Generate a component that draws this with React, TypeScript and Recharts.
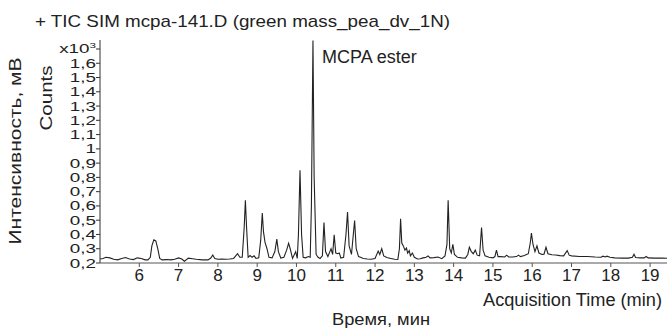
import React from 'react';
import { LineChart, Line, XAxis, YAxis } from 'recharts';

// retention time (min) and intensity (x10^3 counts)
const times = [
  5.0, 5.08, 5.15, 5.25, 5.35, 5.45, 5.55, 5.65, 5.75, 5.85, 5.95, 6.05, 6.15, 6.22, 6.28, 6.32, 6.37, 6.42, 6.47, 6.52, 6.58,
  6.7, 6.8, 6.9, 7.0, 7.08, 7.15, 7.25, 7.35, 7.45, 7.6, 7.75, 7.82, 7.87, 7.92, 8.0, 8.1, 8.2, 8.3, 8.4, 8.5,
  8.56, 8.62, 8.67, 8.7, 8.73, 8.77, 8.82, 8.87, 8.92, 8.97, 9.04, 9.09, 9.13, 9.16, 9.2, 9.25, 9.3, 9.38, 9.45, 9.5,
  9.54, 9.6, 9.68, 9.75, 9.8, 9.84, 9.9, 9.98, 10.02, 10.05, 10.09, 10.13, 10.17, 10.23, 10.3, 10.35, 10.38, 10.42, 10.45, 10.5,
  10.55, 10.6, 10.66, 10.7, 10.74, 10.8, 10.85, 10.88, 10.92, 10.96, 11.0, 11.05, 11.09, 11.13, 11.2, 11.26, 11.3, 11.34, 11.4, 11.44,
  11.48, 11.52, 11.58, 11.63, 11.7, 11.8, 11.9, 12.0, 12.08, 12.12, 12.17, 12.22, 12.3, 12.4, 12.5, 12.58, 12.62, 12.65, 12.68, 12.72,
  12.76, 12.8, 12.83, 12.87, 12.9, 12.95, 13.0, 13.08, 13.15, 13.22, 13.3, 13.35, 13.4, 13.5, 13.6, 13.7, 13.78, 13.83, 13.86, 13.9,
  13.94, 13.98, 14.02, 14.1, 14.2, 14.3, 14.36, 14.4, 14.45, 14.5, 14.55, 14.6, 14.66, 14.71, 14.75, 14.8, 14.9, 15.0, 15.05, 15.09,
  15.13, 15.2, 15.3, 15.35, 15.4, 15.5, 15.6, 15.65, 15.7, 15.8, 15.9, 15.95, 15.98, 16.02, 16.07, 16.12, 16.17, 16.25, 16.3, 16.35,
  16.4, 16.5, 16.6, 16.7, 16.8, 16.89, 16.94, 17.0, 17.2, 17.4, 17.6, 17.75, 17.8, 17.86, 17.9, 17.98, 18.1, 18.3, 18.45, 18.55,
  18.59, 18.63, 18.75, 18.85, 18.9, 18.95, 19.1, 19.3, 19.43,
];

const counts = [
  0.228, 0.232, 0.240, 0.236, 0.226, 0.222, 0.232, 0.238, 0.228, 0.224, 0.236, 0.232, 0.222, 0.222, 0.240, 0.320, 0.362, 0.355, 0.300, 0.232, 0.222,
  0.224, 0.222, 0.226, 0.236, 0.228, 0.212, 0.234, 0.230, 0.226, 0.222, 0.222, 0.235, 0.256, 0.232, 0.226, 0.228, 0.226, 0.228, 0.232, 0.265,
  0.240, 0.240, 0.450, 0.639, 0.450, 0.240, 0.252, 0.240, 0.250, 0.232, 0.236, 0.360, 0.550, 0.420, 0.345, 0.300, 0.240, 0.236, 0.280, 0.367,
  0.280, 0.235, 0.240, 0.290, 0.339, 0.300, 0.232, 0.280, 0.232, 0.400, 0.850, 0.400, 0.240, 0.236, 0.245, 0.240, 0.600, 1.760, 0.800, 0.260,
  0.240, 0.232, 0.250, 0.484, 0.280, 0.245, 0.280, 0.300, 0.260, 0.397, 0.270, 0.265, 0.270, 0.235, 0.240, 0.400, 0.557, 0.320, 0.260, 0.380,
  0.498, 0.300, 0.245, 0.240, 0.232, 0.228, 0.226, 0.232, 0.284, 0.260, 0.300, 0.250, 0.238, 0.232, 0.226, 0.225, 0.300, 0.510, 0.340, 0.320,
  0.290, 0.305, 0.270, 0.287, 0.250, 0.270, 0.240, 0.228, 0.230, 0.236, 0.240, 0.250, 0.236, 0.238, 0.242, 0.230, 0.250, 0.330, 0.639, 0.300,
  0.270, 0.330, 0.260, 0.240, 0.236, 0.234, 0.260, 0.310, 0.280, 0.265, 0.290, 0.255, 0.250, 0.449, 0.290, 0.250, 0.240, 0.236, 0.245, 0.290,
  0.245, 0.245, 0.242, 0.255, 0.242, 0.242, 0.245, 0.255, 0.245, 0.252, 0.265, 0.340, 0.409, 0.330, 0.280, 0.320, 0.270, 0.260, 0.262, 0.310,
  0.265, 0.258, 0.256, 0.252, 0.250, 0.287, 0.255, 0.250, 0.246, 0.246, 0.242, 0.240, 0.248, 0.242, 0.248, 0.240, 0.236, 0.234, 0.234, 0.240,
  0.262, 0.238, 0.236, 0.236, 0.246, 0.236, 0.234, 0.234, 0.233,
];

const xTicks = [6, 7, 8, 9, 10, 11, 12, 13, 14, 15, 16, 17, 18, 19];
const yTicks = [0.2, 0.3, 0.4, 0.5, 0.6, 0.7, 0.8, 0.9, 1.0, 1.1, 1.2, 1.3, 1.4, 1.5, 1.6, 1.7];

const data = times.map((t, i) => ({ t, v: counts[i] }));

const FONT = '"Liberation Sans", Arial, sans-serif';
const INK = '#222';

// y labels in the original are drawn wide, hence the horizontal stretch
const YTick = ({ x, y, payload }: any) => {
  const v = Math.round(payload.value * 10) / 10;
  const label = v === 1.7
    ? <>x10<tspan fontSize={8} dy={-5}>3</tspan></>
    : String(v).replace('.', ',');
  return (
    <g transform={`translate(${x},${y})`}>
      <text transform="scale(1.45,1)" x={0} y={0} dy={4.5} textAnchor="end" fontSize={13} fill={INK} fontFamily={FONT}>
        {label}
      </text>
    </g>
  );
};

export default function App() {
  return (
    <div style={{ position: 'absolute', left: 0, top: 0, width: 667, height: 332, background: '#fff', fontFamily: FONT }}>
      <LineChart width={667} height={332} data={data} margin={{ top: 40, right: 0, bottom: 39, left: 40 }}>
        <XAxis
          type="number"
          dataKey="t"
          domain={[5, 19.43]}
          ticks={xTicks}
          allowDataOverflow
          tickSize={4}
          height={30}
          stroke="#555"
          tick={{ fontSize: 17, fill: INK, fontFamily: FONT }}
          interval={0}
        />
        <YAxis
          type="number"
          dataKey="v"
          domain={[0.2, 1.763]}
          ticks={yTicks}
          allowDataOverflow
          tickSize={4}
          tickMargin={0}
          width={60}
          stroke="#333"
          tick={<YTick />}
          interval={0}
        />
        <Line
          type="linear"
          dataKey="v"
          stroke={INK}
          strokeWidth={1.1}
          dot={false}
          isAnimationActive={false}
        />
        <text x={35} y={27} fontSize={17} textLength={415} lengthAdjust="spacingAndGlyphs" fill={INK} fontFamily={FONT}>
          + TIC SIM mcpa-141.D (green mass_pea_dv_1N)
        </text>
        <text x={322} y={63} fontSize={18} fill={INK} fontFamily={FONT}>
          MCPA ester
        </text>
        <text x={483} y={306} fontSize={18} textLength={179} lengthAdjust="spacingAndGlyphs" fill={INK} fontFamily={FONT}>
          Acquisition Time (min)
        </text>
        <text x={332} y={325} fontSize={17} textLength={98} lengthAdjust="spacingAndGlyphs" fill={INK} fontFamily={FONT}>
          Время, мин
        </text>
        <text x={21} y={151} fontSize={17} textLength={187} lengthAdjust="spacingAndGlyphs" fill={INK} fontFamily={FONT} textAnchor="middle" transform="rotate(-90 21 151)">
          Интенсивность, мВ
        </text>
        <text x={52} y={98} fontSize={17} textLength={65} lengthAdjust="spacingAndGlyphs" fill={INK} fontFamily={FONT} textAnchor="middle" transform="rotate(-90 52 98)">
          Counts
        </text>
      </LineChart>
    </div>
  );
}
